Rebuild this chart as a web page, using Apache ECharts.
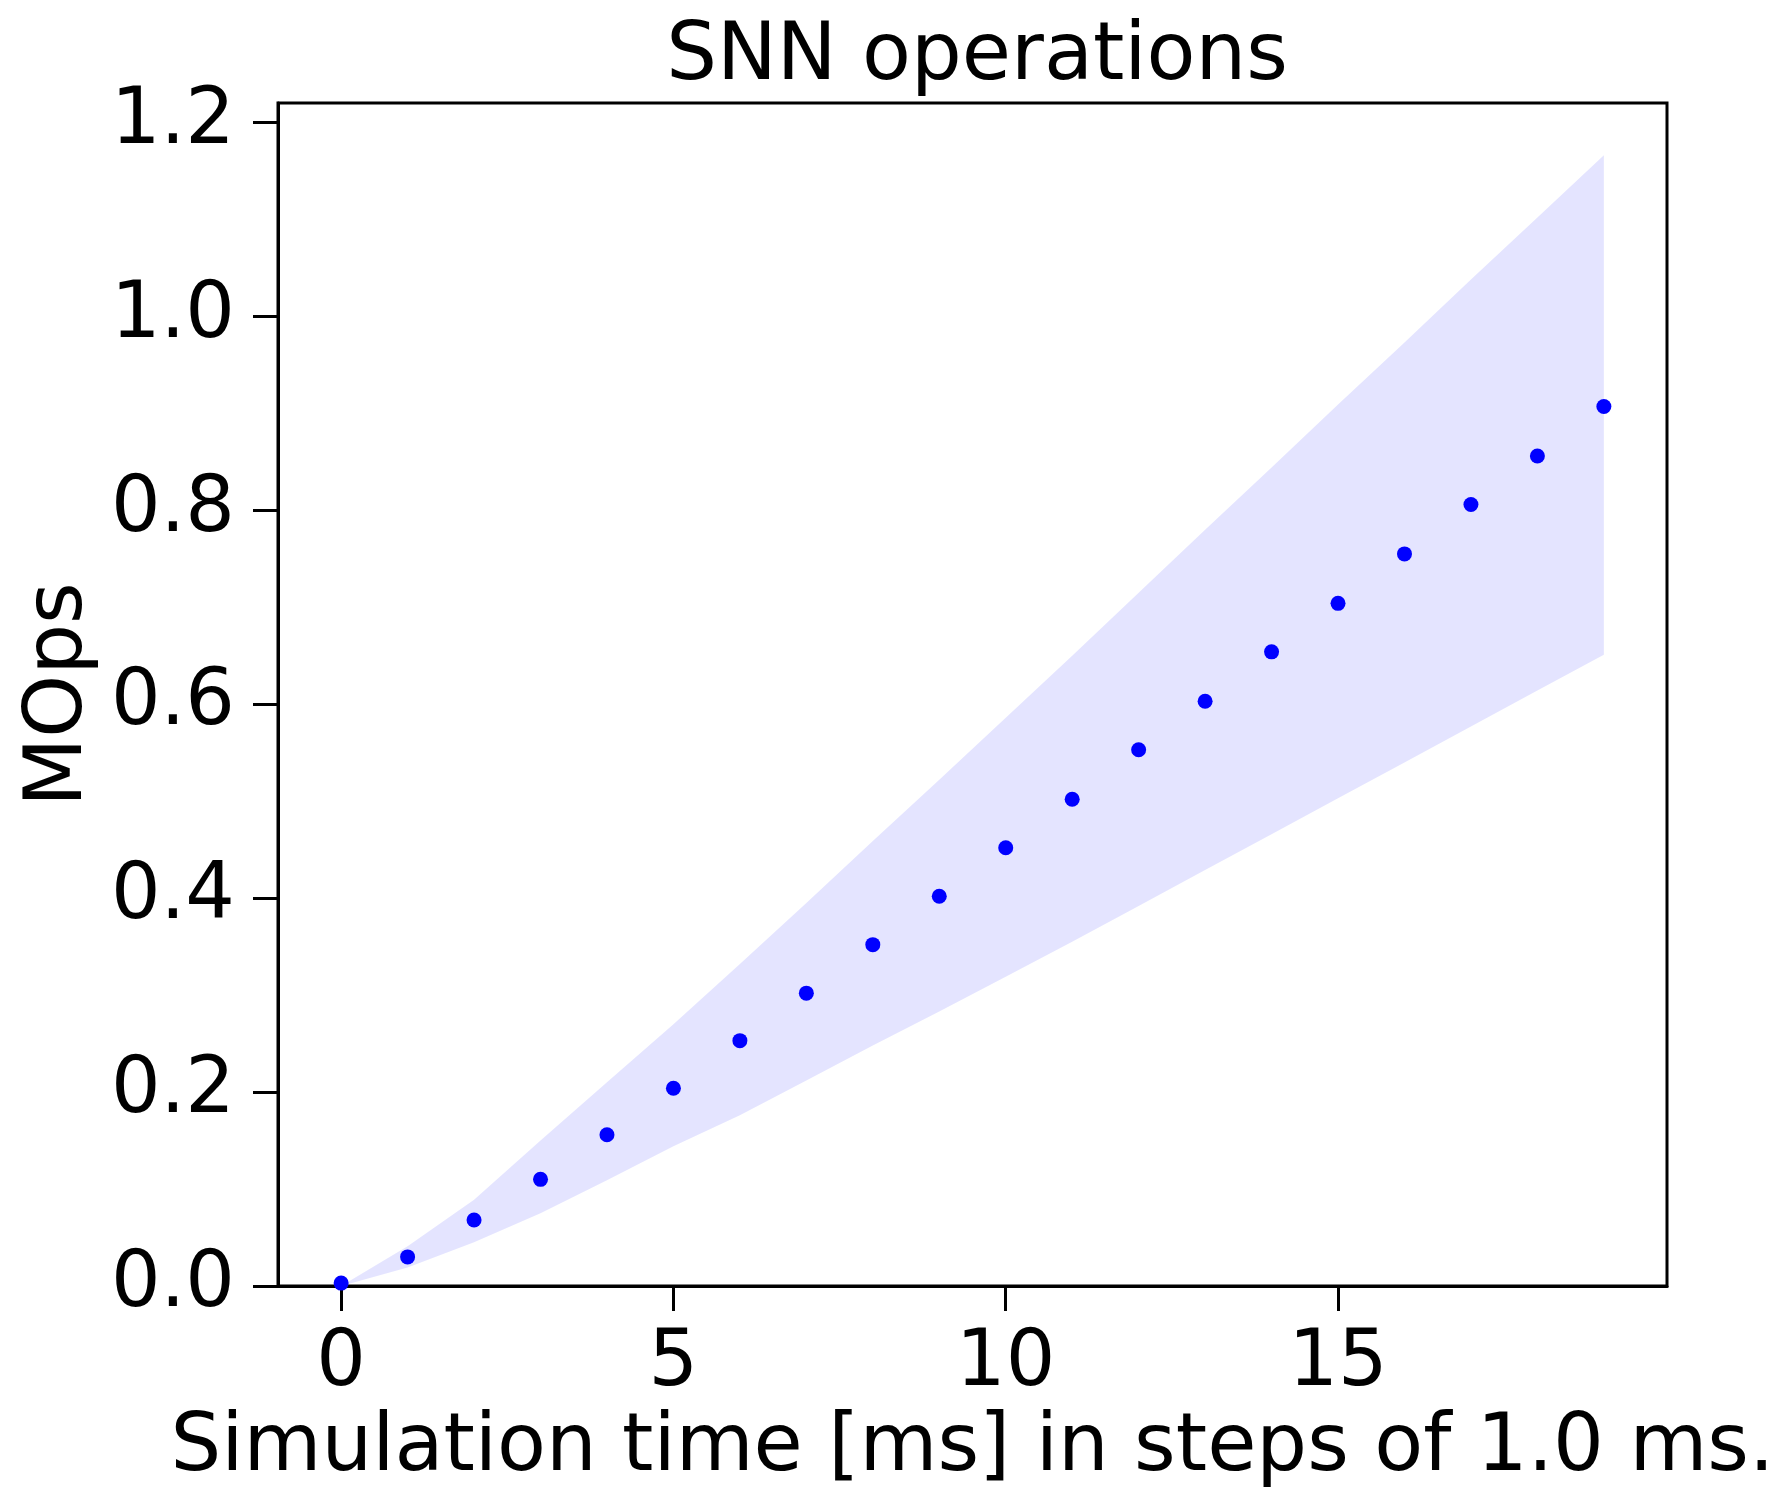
<!DOCTYPE html>
<html>
<head>
<meta charset="utf-8">
<script src="https://cdn.jsdelivr.net/npm/echarts@6/dist/echarts.min.js"></script>
<style>
  html, body { margin: 0; padding: 0; background: #fff; }
  #chart { width: 1779px; height: 1498px; }
</style>
</head>
<body>
<div id="chart"></div>
<script>
// ---- data ----
const steps = [0, 1, 2, 3, 4, 5, 6, 7, 8, 9, 10, 11, 12, 13, 14, 15, 16, 17, 18, 19];
const meanOps = [0.003, 0.030, 0.068, 0.110, 0.156, 0.204, 0.253, 0.302, 0.352, 0.402,
                 0.452, 0.502, 0.553, 0.603, 0.654, 0.704, 0.755, 0.806, 0.856, 0.907];
const upperOps = [0.0, 0.041, 0.089, 0.150, 0.210, 0.270, 0.332, 0.395, 0.459, 0.522,
                  0.586, 0.650, 0.715, 0.780, 0.844, 0.909, 0.973, 1.038, 1.102, 1.166];
const lowerOps = [0.0, 0.019, 0.045, 0.075, 0.109, 0.144, 0.176, 0.212, 0.248, 0.283,
                  0.319, 0.355, 0.392, 0.429, 0.466, 0.503, 0.540, 0.577, 0.614, 0.651];
const xTicks = [0, 5, 10, 15];
const yTicks = [0, 0.2, 0.4, 0.6, 0.8, 1.0, 1.2];

const titleText = 'SNN operations';
const xName = 'Simulation time [ms] in steps of 1.0 ms.';
const yName = 'MOps';

// ---- build ----
const FONT = 'DejaVu Sans';
const bandData = steps.map((x, i) => [x, lowerOps[i], upperOps[i]]);
const meanData = steps.map((x, i) => [x, meanOps[i]]);

function renderBand(params, api) {
  if (params.dataIndex !== 0) return null;
  const pts = [];
  for (let i = 0; i < steps.length; i++) pts.push(api.coord([steps[i], upperOps[i]]));
  for (let i = steps.length - 1; i >= 0; i--) pts.push(api.coord([steps[i], lowerOps[i]]));
  return {
    type: 'polygon',
    shape: { points: pts },
    style: { fill: 'rgba(0,0,255,0.105)', stroke: null }
  };
}

const chart = echarts.init(document.getElementById('chart'), null, { renderer: 'canvas' });
chart.setOption({
  animation: false,
  backgroundColor: '#ffffff',
  title: {
    text: titleText,
    left: 972,
    top: 13,
    textAlign: 'center',
    textStyle: { fontFamily: FONT, fontSize: 80, fontWeight: 'normal', color: '#000' }
  },
  grid: {
    left: 278, top: 103, right: 112, bottom: 212,
    outerBoundsMode: 'none',
    containLabel: false,
    show: true, borderColor: '#000', borderWidth: 3, backgroundColor: 'transparent'
  },
  xAxis: {
    type: 'value',
    min: -0.95, max: 19.95,
    name: xName,
    nameLocation: 'middle',
    nameGap: 118,
    nameTextStyle: { fontFamily: FONT, fontSize: 80, color: '#000' },
    splitLine: { show: false },
    axisLine: { show: true, onZero: false, lineStyle: { color: '#000', width: 3 } },
    axisTick: { show: true, inside: false, length: 25, lineStyle: { color: '#000', width: 3 }, customValues: xTicks },
    axisLabel: { fontFamily: FONT, fontSize: 78, color: '#000', margin: 40, customValues: xTicks,
                 formatter: v => String(v) }
  },
  yAxis: {
    type: 'value',
    min: 0, max: 1.22,
    name: yName,
    nameLocation: 'middle',
    nameGap: 163,
    nameRotate: 90,
    nameTextStyle: { fontFamily: FONT, fontSize: 80, color: '#000' },
    splitLine: { show: false },
    axisLine: { show: true, onZero: false, lineStyle: { color: '#000', width: 3 } },
    axisTick: { show: true, inside: false, length: 25, lineStyle: { color: '#000', width: 3 }, customValues: yTicks },
    axisLabel: { fontFamily: FONT, fontSize: 78, color: '#000', margin: 43, customValues: yTicks,
                 formatter: v => v.toFixed(1) }
  },
  series: [
    {
      type: 'custom', name: 'band', data: bandData,
      encode: { x: 0, y: [1, 2] },
      renderItem: renderBand, silent: true, clip: true, z: 1
    },
    {
      type: 'scatter', name: 'mean', data: meanData,
      symbol: 'circle', symbolSize: 15,
      itemStyle: { color: '#0000ff', opacity: 1 }, z: 3
    }
  ]
});
</script>
</body>
</html>
